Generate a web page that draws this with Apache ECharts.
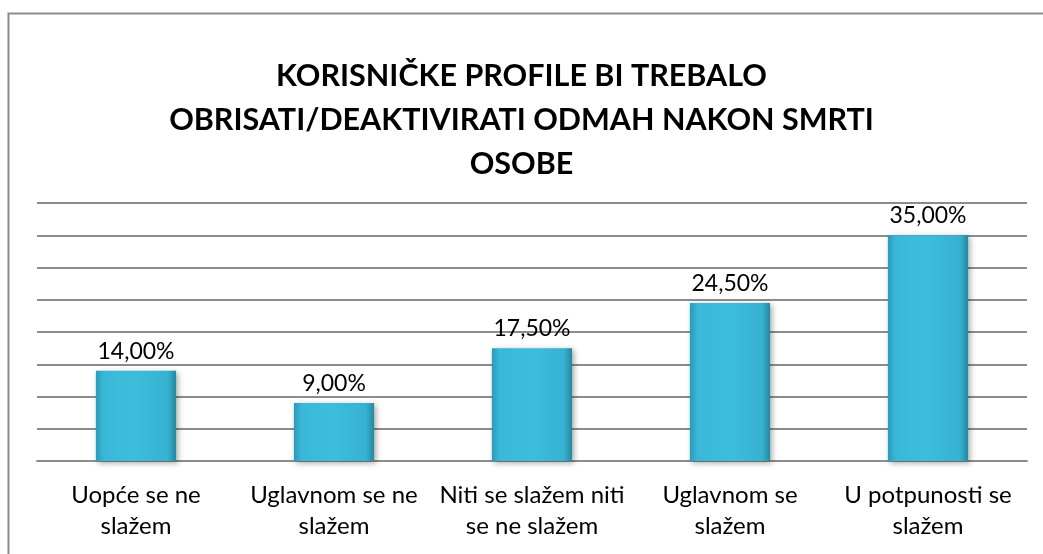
<!DOCTYPE html>
<html>
<head>
<meta charset="utf-8">
<script src="https://cdn.jsdelivr.net/npm/echarts@6/dist/echarts.min.js"></script>
<style>
  html, body { margin: 0; padding: 0; background: #fff; }
  #chart { width: 1043px; height: 554px; }
</style>
</head>
<body>
<div id="chart"></div>
<script>
var categories = [
  'Uopće se ne\nslažem',
  'Uglavnom se ne\nslažem',
  'Niti se slažem niti\nse ne slažem',
  'Uglavnom se\nslažem',
  'U potpunosti se\nslažem'
]
var values = [14, 9, 17.5, 24.5, 35]
var titleText = 'KORISNIČKE PROFILE BI TREBALO\nOBRISATI/DEAKTIVIRATI ODMAH NAKON SMRTI\nOSOBE'

var myChart = echarts.init(document.getElementById('chart'))

var barColor = new echarts.graphic.LinearGradient(0, 0, 1, 0, [
  { offset: 0, color: '#2a9bb9' },
  { offset: 0.1, color: '#3ab8d8' },
  { offset: 0.5, color: '#3dbddc' },
  { offset: 0.9, color: '#36b1d1' },
  { offset: 1, color: '#25889f' }
])

var option = {
  backgroundColor: '#fff',
  textStyle: { fontFamily: 'Lato' },
  title: {
    text: titleText,
    left: 'center',
    top: 49,
    textStyle: {
      fontFamily: 'Lato',
      fontWeight: 'bold',
      fontSize: 30.5,
      lineHeight: 44,
      color: '#000'
    }
  },
  graphic: [{
    type: 'rect',
    shape: { x: 8.5, y: 13.5, width: 1100, height: 600 },
    style: { fill: 'none', stroke: '#8c8c8c', lineWidth: 2 },
    silent: true
  }],
  grid: { left: 37, right: 16, top: 203, bottom: 93 },
  xAxis: {
    type: 'category',
    data: categories,
    axisTick: { show: false },
    axisLine: { lineStyle: { color: '#8c8c8c', width: 2 } },
    axisLabel: {
      color: '#000',
      fontSize: 24,
      lineHeight: 31,
      margin: 19,
      interval: 0
    }
  },
  yAxis: {
    type: 'value',
    min: 0,
    max: 40,
    interval: 5,
    axisLabel: { show: false },
    axisLine: { show: false },
    axisTick: { show: false },
    splitLine: { lineStyle: { color: '#8c8c8c', width: 2 } }
  },
  series: [{
    type: 'bar',
    data: values,
    barWidth: '40.5%',
    itemStyle: {
      color: barColor,
      shadowColor: 'rgba(0,0,0,0.35)',
      shadowBlur: 6,
      shadowOffsetX: 2,
      shadowOffsetY: 2
    },
    label: {
      show: true,
      position: 'top',
      distance: 8,
      color: '#000',
      fontSize: 23,
      formatter: function (p) {
        return p.value.toFixed(2).replace('.', ',') + '%'
      }
    }
  }]
}

myChart.setOption(option)
</script>
</body>
</html>
